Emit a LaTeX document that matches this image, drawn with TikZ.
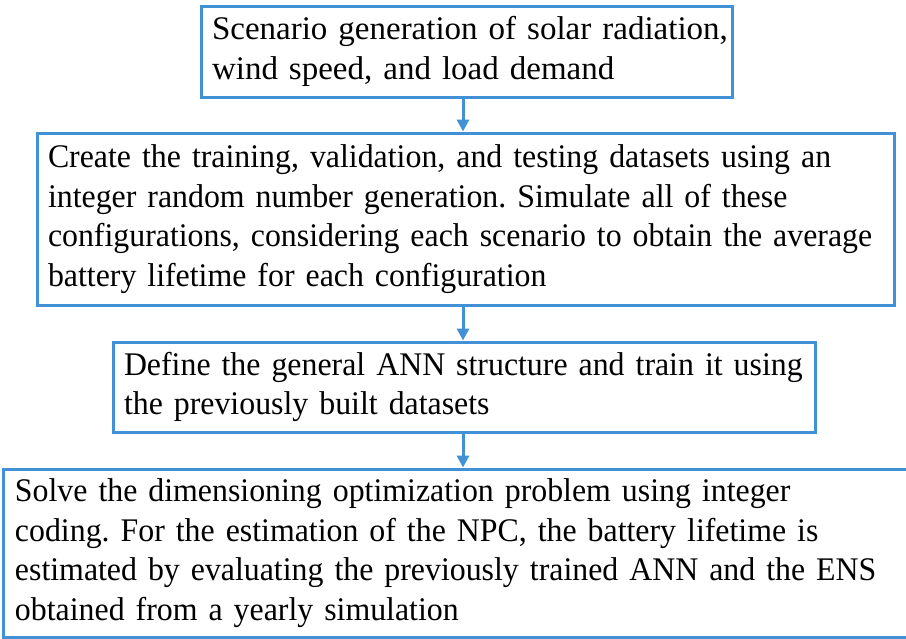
\documentclass[tikz,border=0pt]{standalone}
\usepackage{fontspec}
\setmainfont{Liberation Serif}
\newfontfamily\condserif[FakeStretch=0.965]{Liberation Serif}
\usetikzlibrary{arrows.meta}
\definecolor{boxblue}{RGB}{66,144,214}
\begin{document}
\frenchspacing
\begin{tikzpicture}[x=1pt,y=-1pt,
  stepbox/.style={draw=boxblue, line width=3pt, fill=none, align=left,
    inner xsep=11pt, inner ysep=0pt,
    font=\fontsize{33}{39.5}\selectfont},
  condbox/.style={stepbox, font=\condserif\fontsize{33}{39.5}\selectfont},
  arr/.style={draw=boxblue, line width=3pt,
    -{Triangle[length=12pt,width=12pt]}}]
\useasboundingbox (0,0) rectangle (906,638);
\fill[white] (0,0) rectangle (906,638);
\coordinate (ax) at (463,0);
\node[stepbox, minimum width=531pt, minimum height=91pt, text width=509pt] (b1) at (466.5,51.5)
  {\mbox{Scenario generation of solar radiation,}\\\mbox{wind speed, and load demand}};
\node[condbox, minimum width=857pt, minimum height=172pt, text width=835pt] (b2) at (465.5,219)
  {\mbox{Create the training, validation, and testing datasets using an}\\
   \mbox{integer random number generation. Simulate all of these}\\
   \mbox{configurations, considering each scenario to obtain the average}\\
   \mbox{battery lifetime for each configuration}};
\node[condbox, minimum width=702pt, minimum height=90pt, text width=680pt] (b3) at (464,387)
  {\mbox{Define the general ANN structure and train it using}\\
   \mbox{the previously built datasets}};
\node[condbox, minimum width=911pt, minimum height=168pt, text width=887pt, inner xsep=12pt] (b4) at (458.5,553)
  {\mbox{Solve the dimensioning optimization problem using integer}\\
   \mbox{coding. For the estimation of the NPC, the battery lifetime is}\\
   \mbox{estimated by evaluating the previously trained ANN and the ENS}\\
   \mbox{obtained from a yearly simulation}};
\draw[arr] (b1.south -| ax) -- (b2.north -| ax);
\draw[arr] (b2.south -| ax) -- (b3.north -| ax);
\draw[arr] (b3.south -| ax) -- (b4.north -| ax);
\end{tikzpicture}
\end{document}
